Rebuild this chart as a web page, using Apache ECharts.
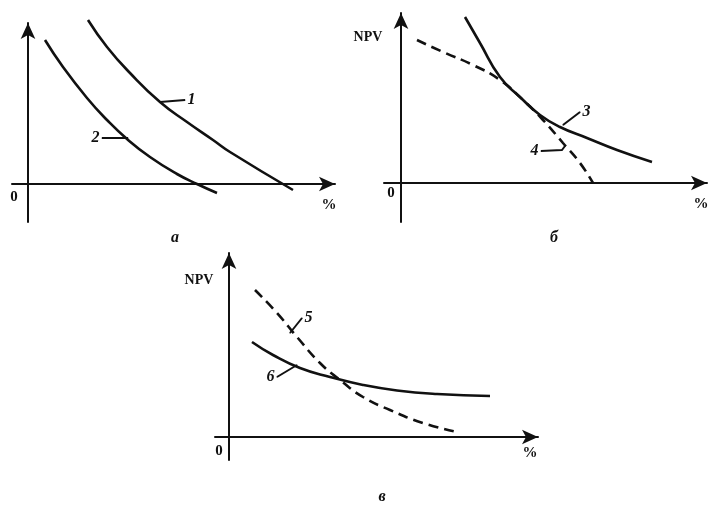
<!DOCTYPE html>
<html>
<head>
<meta charset="utf-8">
<script src="https://cdn.jsdelivr.net/npm/echarts@6/dist/echarts.min.js"></script>
<style>
  html, body { margin: 0; padding: 0; background: #fff; }
  #chart { width: 708px; height: 505px; }
</style>
</head>
<body>
<div id="chart"></div>
<script>
// NPV profiles as [rate, NPV] in arbitrary units
const curve1 = [[6.0, 16.4], [7.9, 13.7], [10.2, 11.1], [13.2, 8.2], [15.9, 6.2], [18.5, 4.4], [20.2, 3.2], [26.5, -0.6]]
const curve2 = [[1.7, 14.4], [3.5, 11.7], [5.9, 8.6], [7.9, 6.4], [9.9, 4.5], [12.2, 2.7], [14.9, 1.0], [16.9, 0.0], [18.9, -0.9]]
const curve3 = [[6.4, 16.6], [7.9, 14.0], [9.9, 10.6], [11.9, 8.6], [13.9, 6.8], [15.9, 5.6], [18.6, 4.5], [21.6, 3.3], [25.1, 2.1]]
const curve4 = [[1.6, 14.3], [4.2, 13.1], [7.2, 11.8], [9.9, 10.3], [12.2, 8.3], [14.2, 6.3], [16.2, 4.0], [17.9, 2.0], [19.2, 0]]
const curve5 = [[2.6, 14.7], [4.8, 12.4], [6.8, 10.0], [9.1, 7.4], [11.1, 5.7], [13.4, 4.0], [16.1, 2.7], [19.4, 1.4], [22.8, 0.5]]
const curve6 = [[2.3, 9.5], [4.4, 8.2], [7.1, 6.9], [10.1, 6.0], [13.4, 5.2], [16.8, 4.65], [20.8, 4.3], [26.1, 4.1]]

// leader lines for the curve numbers (label sits at the last point)
const leader1 = [[13.2, 8.2], [15.7, 8.4]]
const leader2 = [[10.0, 4.6], [7.4, 4.6]]
const leader3 = [[16.2, 5.8], [17.9, 7.1]]
const leader4 = [[16.4, 3.7], [16.1, 3.3], [14.0, 3.2]]
const leader5 = [[6.1, 10.4], [7.3, 11.9]]
const leader6 = [[6.8, 7.2], [4.8, 6.0]]

const captions = ['а', 'б', 'в']
const yName = 'NPV'
const xName = '%'

const serif = '"Liberation Serif", "DejaVu Serif", serif'

// axis ranges per panel [xMin, xMax, yMin, yMax]
const ranges = [
  [-1.6, 30.7, -3.8, 16.1],
  [-1.7, 30.6, -3.9, 17.0],
  [-1.4, 30.9, -2.3, 18.4]
]
const grids = [
  { left: 12, width: 323, top: 23, height: 199 },
  { left: 384, width: 323, top: 13, height: 209 },
  { left: 215, width: 323, top: 253, height: 207 }
]

const axisLine = {
  onZero: true,
  symbol: ['none', 'arrow'],
  symbolSize: [11, 16],
  lineStyle: { color: '#111', width: 2 }
}

function axis(min, max, i) {
  return {
    type: 'value', gridIndex: i, min: min, max: max,
    axisLine: axisLine,
    axisTick: { show: false },
    axisLabel: { show: false },
    splitLine: { show: false }
  }
}

function curve(data, i, dashed) {
  return {
    type: 'line', xAxisIndex: i, yAxisIndex: i,
    data: data, smooth: 0.5, symbol: 'none', clip: false,
    lineStyle: { color: '#111', width: 2.6, type: dashed ? [10, 6] : 'solid' }
  }
}

function leader(data, i, text, pos) {
  const last = data.length - 1
  return {
    type: 'line', xAxisIndex: i, yAxisIndex: i,
    data: data.map((d, k) => ({
      value: d,
      label: {
        show: k === last, formatter: text, position: pos, distance: 2,
        fontFamily: serif, fontStyle: 'italic', fontWeight: 'bold', fontSize: 16, color: '#111'
      }
    })),
    symbol: 'circle', symbolSize: 1, showSymbol: true, clip: false,
    itemStyle: { color: '#111' },
    lineStyle: { color: '#111', width: 2 }
  }
}

function txt(x, y, s, size, italic) {
  return {
    type: 'text', x: x, y: y,
    style: {
      text: s, fill: '#111', font: (italic ? 'italic ' : '') + 'bold ' + size + 'px ' + serif,
      align: 'center', verticalAlign: 'middle'
    }
  }
}

const option = {
  animation: false,
  backgroundColor: '#fff',
  grid: grids,
  xAxis: ranges.map((r, i) => axis(r[0], r[1], i)),
  yAxis: ranges.map((r, i) => axis(r[2], r[3], i)),
  series: [
    curve(curve1, 0, false),
    curve(curve2, 0, false),
    leader(leader1, 0, '1', 'right'),
    leader(leader2, 0, '2', 'left'),
    curve(curve3, 1, false),
    curve(curve4, 1, true),
    leader(leader3, 1, '3', 'right'),
    leader(leader4, 1, '4', 'left'),
    curve(curve5, 2, true),
    curve(curve6, 2, false),
    leader(leader5, 2, '5', 'right'),
    leader(leader6, 2, '6', 'left')
  ],
  graphic: [
    txt(14, 197, '0', 15, false),
    txt(329, 205, xName, 15, false),
    txt(175, 238, captions[0], 16, true),
    txt(368, 37, yName, 14, false),
    txt(391, 193, '0', 15, false),
    txt(701, 204, xName, 15, false),
    txt(554, 238, captions[1], 16, true),
    txt(199, 280, yName, 14, false),
    txt(219, 451, '0', 15, false),
    txt(530, 453, xName, 15, false),
    txt(382, 497, captions[2], 16, true)
  ]
}

const myChart = echarts.init(document.getElementById('chart'))
myChart.setOption(option)
</script>
</body>
</html>
